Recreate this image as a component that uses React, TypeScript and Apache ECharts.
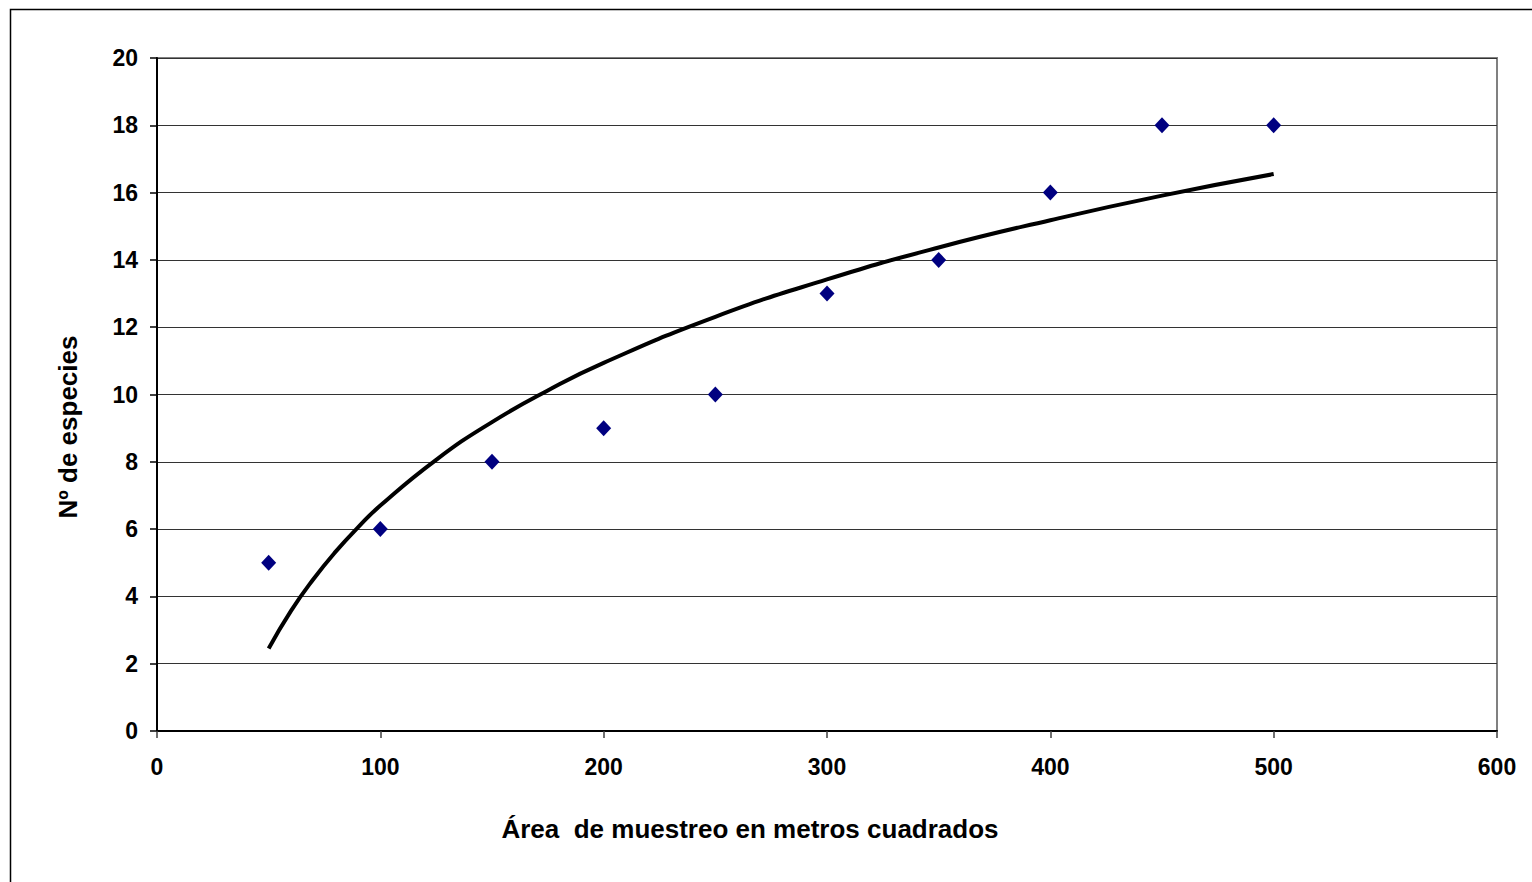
import React, { useEffect, useRef } from "react";
import * as echarts from "echarts";

const areaValues = [50, 100, 150, 200, 250, 300, 350, 400, 450, 500];
const speciesCounts = [5, 6, 8, 9, 10, 13, 14, 16, 18, 18];

// trendline
const trendX = [50, 60, 70, 80, 90, 100, 125, 150, 175, 200, 250, 300, 350, 400, 450, 500];
const trendY = [2.45, 3.57, 4.51, 5.33, 6.05, 6.70, 8.06, 9.18, 10.12, 10.94, 12.31, 13.42, 14.37, 15.18, 15.91, 16.55];

const xTitle = "Área  de muestreo en metros cuadrados";
const yTitle = "Nº de especies";

export default function App() {
  const ref = useRef<HTMLDivElement>(null);
  useEffect(() => {
    document.body.style.margin = "0";
    if (!ref.current) return;
    const chart = echarts.init(ref.current, null, { renderer: "svg" });
    const font = "'Liberation Sans', Arial, sans-serif";
    chart.setOption({
      animation: false,
      backgroundColor: "#ffffff",
      grid: {
        left: 157,
        right: 35,
        top: 58,
        bottom: 151,
        show: true,
        borderColor: "#808080",
        borderWidth: 2,
      },
      xAxis: {
        type: "value",
        min: 0,
        max: 600,
        interval: 100,
        axisLine: { show: true, onZero: false, lineStyle: { color: "#000", width: 2 } },
        axisTick: { show: true, length: 7, lineStyle: { color: "#404040", width: 1.5 } },
        axisLabel: {
          margin: 24,
          color: "#000",
          fontFamily: font,
          fontWeight: "bold",
          fontSize: 23,
        },
        splitLine: { show: false },
      },
      yAxis: {
        type: "value",
        min: 0,
        max: 20,
        interval: 2,
        axisLine: { show: true, onZero: false, lineStyle: { color: "#000", width: 2 } },
        axisTick: { show: true, length: 7, lineStyle: { color: "#000", width: 1.5 } },
        axisLabel: {
          margin: 19,
          color: "#000",
          fontFamily: font,
          fontWeight: "bold",
          fontSize: 23,
        },
        splitLine: { show: true, lineStyle: { color: "#333", width: 1.2 } },
      },
      graphic: [
        {
          type: "rect",
          shape: { x: 10.5, y: 9.5, width: 1600, height: 1000 },
          style: { fill: "none", stroke: "#000", lineWidth: 1.5 },
          silent: true,
        },
        {
          type: "text",
          x: 750,
          y: 829,
          style: {
            text: xTitle,
            fill: "#000",
            font: `bold 26px ${font}`,
            textAlign: "center",
            textVerticalAlign: "middle",
          },
        },
        {
          type: "text",
          x: 68,
          y: 427,
          rotation: Math.PI / 2,
          style: {
            text: yTitle,
            fill: "#000",
            font: `bold 26px ${font}`,
            textAlign: "center",
            textVerticalAlign: "middle",
          },
        },
      ],
      series: [
        {
          type: "line",
          data: trendX.map((x, i) => [x, trendY[i]]),
          smooth: true,
          showSymbol: false,
          symbol: "none",
          lineStyle: { color: "#000", width: 4 },
          z: 3,
        },
        {
          type: "scatter",
          data: areaValues.map((x, i) => [x, speciesCounts[i]]),
          symbol: "diamond",
          symbolSize: [15, 16],
          itemStyle: { color: "#000080", opacity: 1 },
          z: 4,
        },
      ],
    });
    return () => chart.dispose();
  }, []);
  return <div ref={ref} style={{ width: 1532, height: 882 }} />;
}
